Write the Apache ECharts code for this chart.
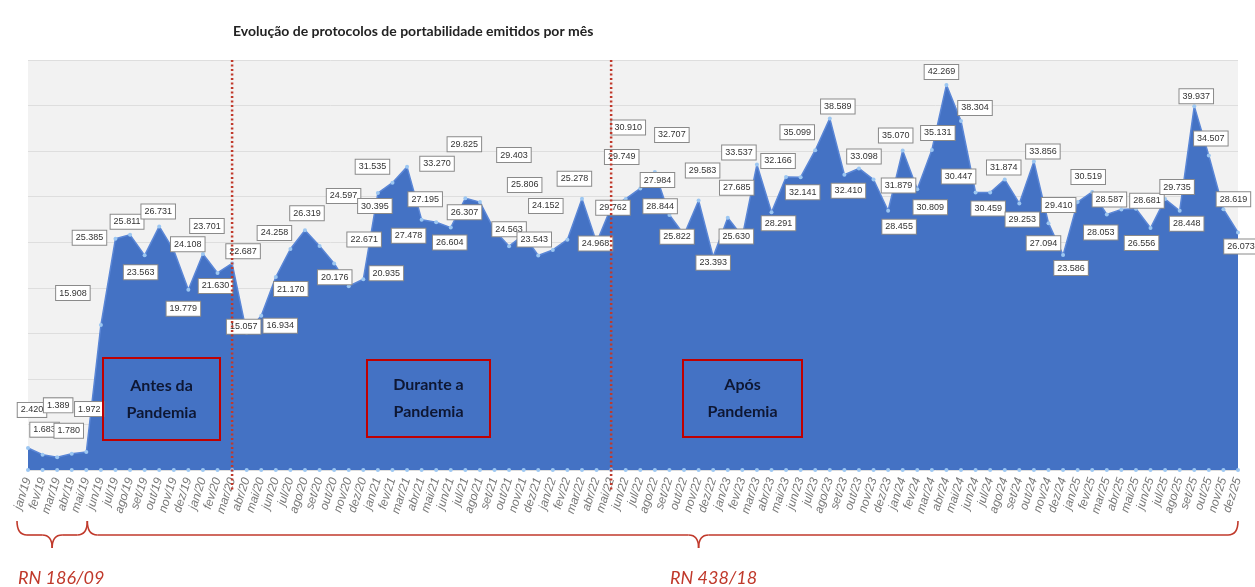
<!DOCTYPE html>
<html><head><meta charset="utf-8">
<script src="https://cdn.jsdelivr.net/npm/echarts@6/dist/echarts.min.js"></script>
<style>html,body{margin:0;padding:0;background:#fff}#c{width:1255px;height:587px}</style>
</head><body><div id="c"></div>
<script>
const monthNames = ['jan','fev','mar','abr','mai','jun','jul','ago','set','out','nov','dez'];
const years = ['19','20','21','22','23','24','25'];
const categories = [];
years.forEach(y => monthNames.forEach(m => categories.push(m + '/' + y)));

const values = [
  2420, 1683, 1389, 1780, 1972, 15908, 25385, 25811, 23563, 26731, 24108, 19779,
  23701, 21630, 22687, 15057, 16934, 21170, 24258, 26319, 24597, 22671, 20176, 20935,
  30395, 31535, 33270, 27478, 27195, 26604, 29825, 29403, 26307, 24563, 25806, 23543,
  24152, 25278, 29762, 24968, 28844, 29749, 30910, 32707, 27984, 25822, 29583, 23393,
  27685, 25630, 33537, 28291, 32166, 32141, 35099, 38589, 32410, 33098, 31879, 28455,
  35070, 30809, 35131, 42269, 38304, 30447, 30459, 31874, 29253, 33856, 27094, 23586,
  29410, 30519, 28053, 28587, 28681, 26556, 29735, 28448, 39937, 34507, 28619, 26073
];
const baseline = [
  0,0,0,0,0,0,0,0,0,0,0,0, 0,0,0,0,0,0,0,0,0,0,0,0, 0,0,0,0,0,0,0,0,0,0,0,0,
  0,0,0,0,0,0,0,0,0,0,0,0, 0,0,0,0,0,0,0,0,0,0,0,0, 0,0,0,0,0,0,0,0,0,0,0,0,
  0,0,0,0,0,0,0,0,0,0,0,0
];
const titleText = 'Evolução de protocolos de portabilidade emitidos por mês';
const dividerMonths = ['mar/20', 'mai/22'];
const periodTexts = ['Antes da\nPandemia', 'Durante a\nPandemia', 'Após\nPandemia'];
const rnTexts = ['RN 186/09', 'RN 438/18'];

// label placement (style only): offset of each data label's centre from its point, in px
const labelOffsets = [
  [4,-38],[2,-25],[1,-52],[-3,-23],[3,-43],[-28,-32],[-26,-1],[-3,-13],[-4,17],[-1,-15],[14,-6],[-5,19],
  [4,-28],[-2,13],[11,-12],[-3,-6],[19,10],[15,12],[-16,-16],[2,-17],[24,-50],[30,-24],[-14,-9],[23,-6],
  [-3,13],[-20,-16],[30,-3],[-13,16],[-11,-23],[-1,15],[-1,-54],[34,-47],[-30,-18],[0,-17],[1,-50],[-4,-16],
  [-7,-44],[7,-61],[31,9],[-1,1],[49,-1],[-4,-42],[-12,-61],[17,-37],[-12,-35],[-7,2],[4,-30],[0,6],
  [9,-30],[-6,0],[-18,-12],[7,11],[-8,-16],[2,15],[-18,-18],[8,-12],[4,16],[5,-12],[25,6],[11,16],
  [-7,-15],[13,18],[6,-17],[-5,-13],[14,-13],[-17,-16],[-2,16],[-1,-12],[3,16],[9,-10],[-5,20],[8,13],
  [-19,3],[-4,-15],[-6,18],[-12,-10],[11,-8],[-9,15],[12,-12],[7,13],[2,-10],[2,-17],[10,-10],[3,14]
];

function fmt(v) { return String(v).replace(/\B(?=(\d{3})+(?!\d))/g, '.'); }

const chart = echarts.init(document.getElementById('c'));
const RED = '#c0392b';
chart.setOption({
  animation: false,
  backgroundColor: '#ffffff',
  title: {
    text: titleText, left: 228, top: 19,
    textStyle: { fontSize: 14, fontWeight: 'bold', fontFamily: 'Lato', color: '#222' }
  },
  grid: { left: 28, right: 17, top: 60, bottom: 117, show: true, backgroundColor: '#f2f2f2', borderWidth: 0 },
  xAxis: {
    type: 'category', data: categories, boundaryGap: false,
    axisLine: { show: false }, axisTick: { show: false },
    axisLabel: { interval: 0, rotate: 72, fontSize: 12, fontStyle: 'italic', color: '#777', margin: 8, fontFamily: 'Liberation Sans Narrow, Liberation Sans' }
  },
  yAxis: {
    type: 'value', min: 0, max: 45000, interval: 5000,
    axisLabel: { show: false }, axisLine: { show: false }, axisTick: { show: false },
    splitLine: { lineStyle: { color: '#dedede', width: 1 } }
  },
  series: [
    {
      type: 'line', data: baseline, symbol: 'circle', symbolSize: 4, showSymbol: true,
      lineStyle: { width: 0, opacity: 0 }, itemStyle: { color: '#9cc7f2' }, z: 3, silent: true
    },
    {
      type: 'line', z: 2,
      data: values.map((v, i) => ({ value: v, label: { offset: labelOffsets[i] } })),
      symbol: 'circle', symbolSize: 4, showSymbol: true,
      lineStyle: { color: '#5a86d6', width: 1.5 },
      itemStyle: { color: '#9cc7f2' },
      areaStyle: { color: '#4472c4', opacity: 1 },
      label: {
        show: true, position: 'inside', formatter: p => fmt(p.value), fontSize: 9, color: '#333',
        fontFamily: 'Liberation Sans Narrow, Liberation Sans', backgroundColor: '#ffffff',
        borderColor: '#8a8a8a', borderWidth: 1, padding: [3, 3, 2, 3]
      }
    }
  ]
});

const xp = c => chart.convertToPixel({ xAxisIndex: 0 }, c);
const graphics = [];
dividerMonths.forEach(m => {
  const x = xp(m);
  graphics.push({ type: 'line', shape: { x1: x, y1: 60, x2: x, y2: 492 }, z: 50,
    style: { stroke: RED, lineWidth: 2.5, lineDash: [2, 2.5] } });
});
const boxes = [
  { x: 103, y: 358, w: 117, h: 82 },
  { x: 367, y: 360, w: 123, h: 77 },
  { x: 683, y: 360, w: 119, h: 77 }
];
boxes.forEach((b, i) => {
  graphics.push({ type: 'rect', shape: { x: b.x, y: b.y, width: b.w, height: b.h }, z: 40,
    style: { fill: 'transparent', stroke: '#c00000', lineWidth: 2 } });
  graphics.push({ type: 'text', x: b.x + b.w / 2, y: b.y + b.h / 2, z: 41,
    style: { text: periodTexts[i], font: 'bold 16px Lato', fill: '#0e1733', align: 'center', verticalAlign: 'middle', lineHeight: 27 } });
});
function brace(xL, xR, xT, yTop, yMid, yTip) {
  const r = 10, s = { stroke: RED, lineWidth: 1.6, fill: 'none' };
  return [
    { type: 'bezierCurve', shape: { x1: xL, y1: yTop, x2: xL + r, y2: yMid, cpx1: xL, cpy1: yMid }, style: s },
    { type: 'line', shape: { x1: xL + r, y1: yMid, x2: xT - r, y2: yMid }, style: s },
    { type: 'bezierCurve', shape: { x1: xT - r, y1: yMid, x2: xT, y2: yTip, cpx1: xT, cpy1: yMid }, style: s },
    { type: 'bezierCurve', shape: { x1: xT, y1: yTip, x2: xT + r, y2: yMid, cpx1: xT, cpy1: yMid }, style: s },
    { type: 'line', shape: { x1: xT + r, y1: yMid, x2: xR - r, y2: yMid }, style: s },
    { type: 'bezierCurve', shape: { x1: xR - r, y1: yMid, x2: xR, y2: yTop, cpx1: xR, cpy1: yMid }, style: s }
  ];
}
const x0 = xp(categories[0]), x4 = xp(categories[4]), xLast = xp(categories[categories.length - 1]);
graphics.push(...brace(x0 - 11, x4 + 1, (x0 - 11 + x4 + 1) / 2, 521, 535, 548));
graphics.push(...brace(x4 + 1, xLast, xp(categories[46]), 521, 535, 548));
graphics.push({ type: 'text', x: 18, y: 578, style: { text: rnTexts[0], font: 'italic 18px Lato', fill: RED, verticalAlign: 'middle' } });
graphics.push({ type: 'text', x: 670, y: 578, style: { text: rnTexts[1], font: 'italic 18px Lato', fill: RED, verticalAlign: 'middle' } });
chart.setOption({ graphic: graphics });
</script></body></html>
